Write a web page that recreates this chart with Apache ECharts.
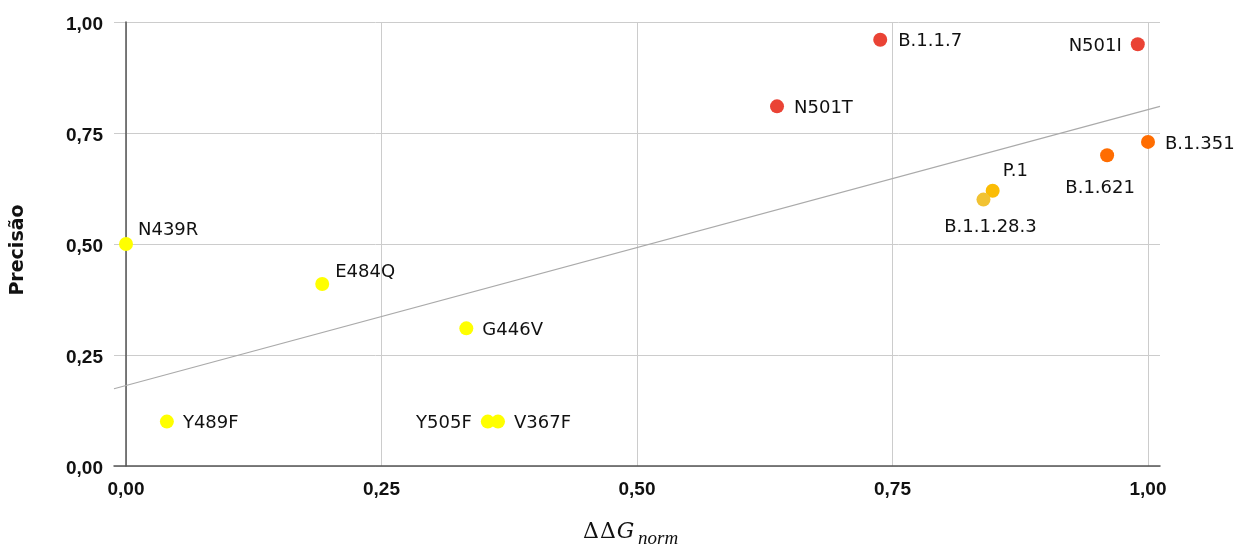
<!DOCTYPE html>
<html>
<head>
<meta charset="utf-8">
<script src="https://cdn.jsdelivr.net/npm/echarts@6/dist/echarts.min.js"></script>
<style>
html,body{margin:0;padding:0;background:#fff;}
#chart{width:1236px;height:548px;}
</style>
</head>
<body>
<div id="chart"></div>
<script>
// ---- data ----
const names = ['N439R','Y489F','E484Q','G446V','Y505F','V367F','N501T','B.1.1.7','N501I','B.1.351','B.1.621','P.1','B.1.1.28.3'];
const ddgNorm = [0.00, 0.040, 0.192, 0.333, 0.354, 0.364, 0.637, 0.738, 0.990, 1.000, 0.960, 0.848, 0.839];
const precisao = [0.50, 0.10, 0.41, 0.31, 0.10, 0.10, 0.81, 0.96, 0.95, 0.73, 0.70, 0.62, 0.60];
const tickValues = [0, 0.25, 0.5, 0.75, 1];

// ---- styles (kept separate from data) ----
const colorOf = {
  'N439R':'#FFFF00','Y489F':'#FFFF00','E484Q':'#FFFF00','G446V':'#FFFF00','Y505F':'#FFFF00','V367F':'#FFFF00',
  'N501T':'#EA4335','B.1.1.7':'#EA4335','N501I':'#EA4335',
  'B.1.351':'#FF6D01','B.1.621':'#FF6D01',
  'P.1':'#FBBC04','B.1.1.28.3':'#F1C232'
};
const labelLayout = {
  'N439R':{position:'right',distance:5,offset:[0,-14]},
  'Y489F':{position:'right',distance:9,offset:[0,2]},
  'E484Q':{position:'right',distance:6,offset:[0,-12]},
  'G446V':{position:'right',distance:9,offset:[0,2]},
  'Y505F':{position:'left',distance:9,offset:[0,2]},
  'V367F':{position:'right',distance:9,offset:[0,2]},
  'N501T':{position:'right',distance:10,offset:[0,2]},
  'B.1.1.7':{position:'right',distance:11,offset:[0,2]},
  'N501I':{position:'left',distance:9,offset:[0,2]},
  'B.1.351':{position:'right',distance:10,offset:[0,2]},
  'B.1.621':{position:'bottom',distance:17,offset:[-7,0]},
  'P.1':{position:'right',distance:3,offset:[0,-19]},
  'B.1.1.28.3':{position:'bottom',distance:12,offset:[7,0]}
};

// least-squares trendline
const n = ddgNorm.length;
const mx = ddgNorm.reduce((a,b)=>a+b,0)/n;
const my = precisao.reduce((a,b)=>a+b,0)/n;
let sxy=0,sxx=0;
for(let i=0;i<n;i++){sxy+=(ddgNorm[i]-mx)*(precisao[i]-my);sxx+=(ddgNorm[i]-mx)**2;}
const slope = sxy/sxx, icpt = my - slope*mx;
const XPAD = 0.0117;
const xLo = -XPAD, xHi = 1 + XPAD;

const fmt = v => v.toFixed(2).replace('.', ',');

const points = names.map((nm,i)=>({
  name:nm,
  value:[ddgNorm[i], precisao[i]],
  itemStyle:{color:colorOf[nm], opacity:1},
  label:Object.assign({show:true, formatter:nm}, labelLayout[nm])
}));

const chart = echarts.init(document.getElementById('chart'));
const tickStyle = {fontFamily:'Liberation Sans', fontWeight:'bold', fontSize:19, color:'#111'};
chart.setOption({
  animation:false,
  grid:[
    {left:114, right:76, top:22, bottom:82},
    {left:126, right:88, top:22, bottom:82}
  ],
  xAxis:[
    {gridIndex:0, type:'value', min:xLo, max:xHi,
     axisLine:{show:true, lineStyle:{color:'#555', width:1.5}}, axisTick:{show:false},
     axisLabel:{show:false}, splitLine:{show:false}},
    {gridIndex:1, type:'value', min:0, max:1, interval:0.25,
     axisLine:{show:false}, axisTick:{show:false},
     axisLabel:Object.assign({margin:14, formatter:v=>fmt(v)}, tickStyle),
     splitLine:{show:true, lineStyle:{color:'#cccccc', width:1}}}
  ],
  yAxis:[
    {gridIndex:0, type:'value', min:0, max:1, interval:0.25,
     axisLine:{show:false}, axisTick:{show:false},
     axisLabel:{margin:11, formatter:v=>'{t|'+fmt(v)+'}', rich:{t:Object.assign({padding:[5,0,0,0]}, tickStyle)}},
     splitLine:{show:true, lineStyle:{color:'#cccccc', width:1}}},
    {gridIndex:1, type:'value', min:0, max:1,
     axisLine:{show:true, lineStyle:{color:'#555', width:1.5}}, axisTick:{show:false},
     axisLabel:{show:false}, splitLine:{show:false}}
  ],
  series:[
    {type:'line', xAxisIndex:0, yAxisIndex:0, silent:true, showSymbol:false, clip:false,
     lineStyle:{color:'#aaaaaa', width:1.2},
     data:[[xLo, icpt+slope*xLo],[xHi, icpt+slope*xHi]], z:3},
    {type:'scatter', xAxisIndex:1, yAxisIndex:1, clip:false, symbolSize:14,
     label:{fontFamily:'DejaVu Sans', fontSize:18, color:'#111'},
     data:points, z:5}
  ],
  graphic:[
    {type:'text', x:18, y:250, rotation:Math.PI/2,
     style:{text:'Precisão', fontFamily:'DejaVu Sans', fontWeight:'bold', fontSize:19, fill:'#111', align:'center', verticalAlign:'middle'}},
    {type:'text', left:583, top:521,
     style:{text:'{a|Δ}{a|Δ}{b|G}', rich:{a:{fontFamily:'DejaVu Serif', fontSize:22, fill:'#111', padding:[0,1,0,0]}, b:{fontFamily:'DejaVu Serif', fontStyle:'italic', fontSize:22, fill:'#111'}}}},
    {type:'text', left:638, top:529,
     style:{text:'norm', fontFamily:'Liberation Serif', fontStyle:'italic', fontSize:19, fill:'#111'}}
  ]
});
</script>
</body>
</html>
